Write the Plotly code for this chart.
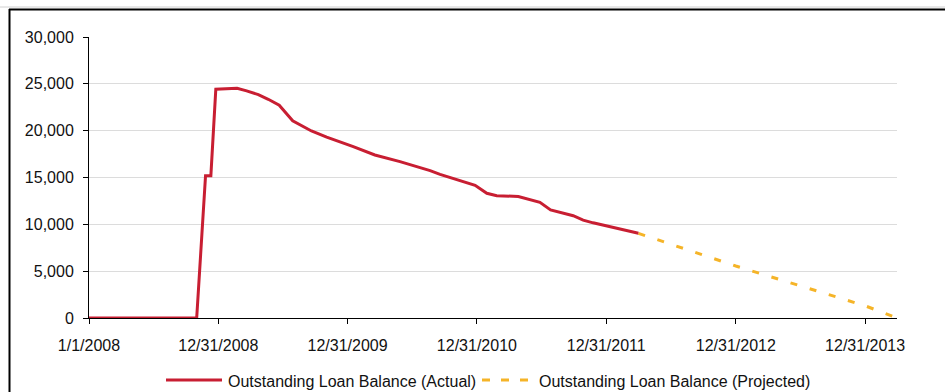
import plotly.graph_objects as go

# ---- data ----
actual_dates = [
    "2008-01-01", "2008-10-31", "2008-11-25", "2008-12-10", "2008-12-24",
    "2009-01-28", "2009-02-22", "2009-03-21", "2009-04-23", "2009-05-21",
    "2009-06-21", "2009-07-29", "2009-09-20", "2009-11-02", "2010-01-16",
    "2010-03-18", "2010-05-28", "2010-08-21", "2010-09-18", "2010-12-26",
    "2011-01-28", "2011-02-25", "2011-04-27", "2011-06-27", "2011-07-27",
    "2011-09-29", "2011-10-27", "2011-11-24", "2012-03-31",
]
actual_values = [
    0, 0, 15200, 15200, 24420,
    24500, 24520, 24250, 23850, 23350,
    22720, 21060, 19970, 19300, 18300,
    17400, 16700, 15730, 15340, 14170,
    13310, 13060, 12970, 12350, 11540,
    10920, 10450, 10160, 9040,
]
proj_dates = ["2012-03-31", "2012-12-31", "2013-12-31", "2014-03-31"]
proj_values = [9040, 5550, 1300, 0]

tick_dates = ["2008-01-01", "2008-12-31", "2009-12-31", "2010-12-31",
              "2011-12-31", "2012-12-31", "2013-12-31"]
tick_labels = ["1/1/2008", "12/31/2008", "12/31/2009", "12/31/2010",
               "12/31/2011", "12/31/2012", "12/31/2013"]
y_ticks = [0, 5000, 10000, 15000, 20000, 25000, 30000]

series_names = ["Outstanding Loan Balance (Actual)",
                "Outstanding Loan Balance (Projected)"]

RED = "#C81E32"
YEL = "#F5B428"
FONT = "Liberation Sans, Arial, sans-serif"

fig = go.Figure()
fig.add_trace(go.Scatter(x=proj_dates, y=proj_values, mode="lines",
                         name=series_names[1],
                         line=dict(color=YEL, width=3, dash="7px,13px"),
                         showlegend=False))
fig.add_trace(go.Scatter(x=actual_dates, y=actual_values, mode="lines",
                         name=series_names[0],
                         line=dict(color=RED, width=3),
                         showlegend=False))

# plot-area geometry (pixels)
L, R, T, B = 89, 897, 37, 318
W, H = R - L, B - T


def px(xp):
    return (xp - L) / W


def py(yp):
    return (B - yp) / H


shapes = [
    # outer frame (left and top edges)
    dict(type="line", xref="paper", yref="paper", x0=px(-5), x1=px(950),
         y0=py(7), y1=py(7), line=dict(color="#D0D0D0", width=1)),
    dict(type="line", xref="paper", yref="paper", x0=px(9), x1=px(950),
         y0=py(9.5), y1=py(9.5), line=dict(color="#000000", width=2)),
    dict(type="line", xref="paper", yref="paper", x0=px(9.5), x1=px(9.5),
         y0=py(9), y1=py(400), line=dict(color="#000000", width=2)),
    # legend samples
    dict(type="line", xref="paper", yref="paper", x0=px(166), x1=px(222),
         y0=py(380), y1=py(380), line=dict(color=RED, width=3)),
    dict(type="line", xref="paper", yref="paper", x0=px(482), x1=px(529),
         y0=py(380), y1=py(380), line=dict(color=YEL, width=3, dash="8px,11px")),
]
annotations = [
    dict(xref="paper", yref="paper", x=px(226), y=py(381), xanchor="left",
         yanchor="middle", showarrow=False, text=series_names[0],
         font=dict(family=FONT, size=16, color="#111111")),
    dict(xref="paper", yref="paper", x=px(537), y=py(381), xanchor="left",
         yanchor="middle", showarrow=False, text=series_names[1],
         font=dict(family=FONT, size=16, color="#111111")),
]

fig.update_layout(
    width=945, height=392,
    margin=dict(l=L, r=945 - R, t=T, b=392 - B, pad=0),
    paper_bgcolor="white", plot_bgcolor="white",
    showlegend=False,
    font=dict(family=FONT, size=16, color="#111111"),
    shapes=shapes, annotations=annotations,
    xaxis=dict(type="date", range=["2008-01-01", "2014-03-31"],
               tickvals=tick_dates, ticktext=tick_labels,
               ticks="outside", ticklen=5, tickcolor="#000000",
               showline=True, linecolor="#000000", linewidth=1,
               showgrid=False, zeroline=False, ticklabelstandoff=8),
    yaxis=dict(range=[0, 30000], tickvals=y_ticks, tickformat=",d",
               ticks="outside", ticklen=5, tickcolor="#000000",
               showline=True, linecolor="#000000", linewidth=1,
               showgrid=True, gridcolor="#DCDCDC", gridwidth=1,
               zeroline=False, ticklabelstandoff=6),
)

fig.write_html("out.html")
